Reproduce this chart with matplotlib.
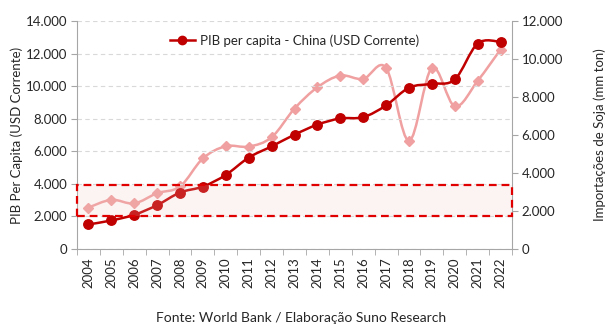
import matplotlib
matplotlib.use("Agg")
import matplotlib.pyplot as plt
from matplotlib.path import Path
from matplotlib.patches import PathPatch, Rectangle
from matplotlib.lines import Line2D
from matplotlib.ticker import FuncFormatter, MultipleLocator

plt.rcParams['font.family'] = ['Lato', 'DejaVu Sans']

anos = [str(a) for a in range(2004, 2023)]
pib_per_capita = [1509, 1753, 2099, 2694, 3468, 3832, 4550, 5614, 6301, 7020,
                  7636, 8016, 8094, 8817, 9905, 10144, 10409, 12618, 12720]
importacoes_soja = [2180, 2590, 2400, 2940, 3290, 4770, 5410, 5390, 5880, 7390,
                    8510, 9130, 8950, 9530, 5690, 9530, 7510, 8850, 10500]

vermelho = '#C00000'
rosa = '#F0A0A0'
cinza = '#A6A6A6'
texto = '#262626'


def curva_suave(xs, ys):
    # curva tipo "linha suavizada" do Excel (bezier cubica)
    n = len(xs)
    verts = [(xs[0], ys[0])]
    codes = [Path.MOVETO]
    for i in range(n - 1):
        x0, y0 = (xs[i - 1], ys[i - 1]) if i > 0 else (xs[i], ys[i])
        x1, y1 = xs[i], ys[i]
        x2, y2 = xs[i + 1], ys[i + 1]
        x3, y3 = (xs[i + 2], ys[i + 2]) if i + 2 < n else (x2, y2)
        c1 = (x1 + (x2 - x0) / 6, y1 + (y2 - y0) / 6)
        c2 = (x2 - (x3 - x1) / 6, y2 - (y3 - y1) / 6)
        verts += [c1, c2, (x2, y2)]
        codes += [Path.CURVE4] * 3
    return Path(verts, codes)


fmt = FuncFormatter(lambda v, p: f"{v:,.0f}".replace(",", "."))

fig = plt.figure(figsize=(6.14, 3.32), dpi=100)
ax = fig.add_axes([77 / 614, 1 - 249 / 332, 435 / 614, 228 / 332])
ax2 = ax.twinx()
ax.set_zorder(ax2.get_zorder() + 1)
ax.patch.set_visible(False)

x = list(range(len(anos)))

ax2.add_patch(PathPatch(curva_suave(x, importacoes_soja), fill=False,
                        edgecolor=rosa, lw=1.8, zorder=2))
ax2.plot(x, importacoes_soja, linestyle='none', marker='D', ms=5.5,
         color=rosa, zorder=3)

ax.add_patch(PathPatch(curva_suave(x, pib_per_capita), fill=False,
                       edgecolor=vermelho, lw=1.8, zorder=2))
ax.plot(x, pib_per_capita, linestyle='none', marker='o', ms=6.8,
        color=vermelho, zorder=3)

ax.add_patch(Rectangle((-0.5, 2000), len(anos), 1900, facecolor='#F2C0C0',
                       alpha=0.18, edgecolor='none', zorder=4))
ax.add_patch(Rectangle((-0.5, 2000), len(anos), 1900, fill=False,
                       edgecolor='#E00000', lw=1.6, ls=(0, (3.5, 2.2)),
                       zorder=5, clip_on=False))

ax.set_xlim(-0.5, len(anos) - 0.5)
ax.set_ylim(0, 14000)
ax2.set_ylim(0, 12000)
ax.yaxis.set_major_locator(MultipleLocator(2000))
ax2.yaxis.set_major_locator(MultipleLocator(2000))
ax.yaxis.set_major_formatter(fmt)
ax2.yaxis.set_major_formatter(fmt)

ax.set_xticks(x)
ax.set_xticklabels(anos, rotation=90)
ax.set_xticks([i - 0.5 for i in range(len(anos) + 1)], minor=True)
ax.tick_params(axis='x', which='major', length=0, pad=6)
ax.tick_params(axis='x', which='minor', length=4, color=cinza)
ax.tick_params(axis='y', length=4, color=cinza, pad=3)
ax2.tick_params(axis='y', length=4, color=cinza, pad=3)
for a in (ax, ax2):
    a.tick_params(labelsize=9.5, labelcolor=texto)
    for s in a.spines.values():
        s.set_visible(False)
ax.spines['left'].set_visible(True)
ax.spines['bottom'].set_visible(True)
ax2.spines['right'].set_visible(True)
for s in (ax.spines['left'], ax.spines['bottom'], ax2.spines['right']):
    s.set_color(cinza)

ax.grid(axis='y', color='#D9D9D9', ls=(0, (4, 3)), lw=0.8)
ax.set_axisbelow(True)

ax.set_ylabel('PIB Per Capita (USD Corrente)', fontsize=9.5, color=texto,
              labelpad=2)
ax2.set_ylabel('Importações de Soja (mm ton)', fontsize=9.5, color=texto,
               labelpad=22)

legenda = Line2D([], [], color=vermelho, lw=1.8, marker='o', ms=6)
ax.legend([legenda], ['PIB per capita - China (USD Corrente)'],
          loc='upper center', bbox_to_anchor=(0.5, 0.995), frameon=False,
          fontsize=9.5, handlelength=1.9, handletextpad=0.4,
          labelcolor=texto)

fig.text(0.49, 1 - 318 / 332, 'Fonte: World Bank / Elaboração Suno Research',
         ha='center', va='center', fontsize=10, color=texto)

fig.savefig('out.png', dpi=100)
